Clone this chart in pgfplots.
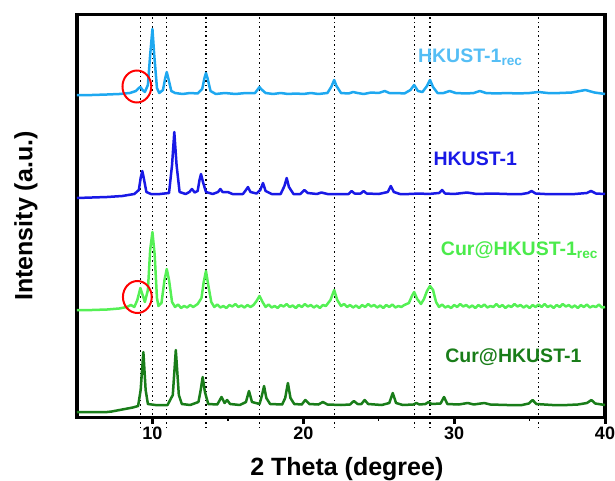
\documentclass[border=0pt]{standalone}
\usepackage{fontspec}
\setmainfont{Liberation Sans}
\usepackage{pgfplots}
\pgfplotsset{compat=1.18}
\definecolor{lblue}{RGB}{30,168,240}
\definecolor{lbluetxt}{RGB}{85,190,245}
\definecolor{dblue}{RGB}{25,25,230}
\definecolor{lgreen}{RGB}{85,240,85}
\definecolor{lgreentxt}{RGB}{75,235,75}
\definecolor{dgreen}{RGB}{25,125,25}
\begin{document}
\begin{tikzpicture}
\useasboundingbox (-77pt,-62.5pt) rectangle (538pt,417.5pt);
\begin{axis}[
  scale only axis, width=528pt, height=403pt,
  xmin=5, xmax=40, ymin=2.5, ymax=405.5,
  clip=false,
  axis line style={line width=3.5pt},
  xtick={10,20,30,40},
  minor xtick={15,25,35},
  ytick=\empty,
  xtick pos=bottom,
  tick align=outside,
  major tick length=6pt, minor tick length=3pt,
  every major tick/.style={line width=3pt,black},
  every minor tick/.style={line width=1.5pt,black},
  ticklabel style={font=\fontsize{18}{20}\selectfont\bfseries},
  /pgf/number format/assume math mode=true,
  xlabel={\bfseries 2 Theta (degree)},
  ylabel={\bfseries Intensity (a.u.)},
  label style={font=\fontsize{25}{28}\selectfont},
  xlabel style={at={(axis description cs:0.511,-0.1427)},anchor=base},
  ylabel style={at={(axis description cs:-0.0966,0.5)},anchor=center},
]
% dotted reference lines
\foreach \xx in {9.2,10.0,10.95,13.55,17.1,22.05,27.35,28.4,35.6}{
  \edef\tmp{\noexpand\addplot[black, line width=1.3pt, dash pattern=on 1.3pt off 3.2pt] coordinates {(\xx,-8) (\xx,410)};}
  \tmp
}
% HKUST-1rec
\addplot[lblue, line width=2.5pt, line join=round] coordinates {
(5,325) (6,325) (7,325.5) (7.8,326) (8.5,327) (8.9,329) (9.1,332) (9.2,333) (9.35,330) (9.5,328) (9.7,335) (9.85,365) (10.0,391) (10.12,365) (10.3,332) (10.45,327) (10.7,330) (10.85,342) (10.95,348) (11.05,342) (11.25,329) (11.5,327) (12,326) (12.5,327) (13,326.5) (13.3,331) (13.45,342) (13.55,347) (13.65,342) (13.85,329) (14.2,326) (14.8,327) (15.5,326) (16.2,327) (16.8,327) (17.0,331) (17.1,333) (17.2,331) (17.5,327) (18,326) (18.5,327) (19,326) (19.5,326.5) (20,326) (20.5,327) (21,326) (21.6,327) (21.85,333) (22.05,340) (22.2,334) (22.5,327) (23,326.5) (23.3,328) (23.6,327) (24,326) (24.5,327.5) (25,327) (25.4,329) (25.7,327) (26.2,327) (26.7,326.5) (27.1,330) (27.35,335) (27.6,329) (27.9,328) (28.2,334) (28.4,340) (28.6,333) (28.9,327) (29.3,327) (29.7,329) (30.1,327) (30.8,326.5) (31.3,327) (31.7,329) (32.1,327) (32.8,326.5) (33.5,327) (34.2,326.5) (35,327) (35.6,328) (36.2,327) (37,327) (37.8,327.5) (38.7,330) (39.3,327.5) (40,326)
};
% HKUST-1
\addplot[dblue, line width=2.5pt, line join=round] coordinates {
(5,222) (6,222.5) (7,223) (8,224) (8.8,226) (9.1,230) (9.22,242) (9.33,249) (9.45,240) (9.6,228) (9.9,226) (10.5,226) (11.1,227) (11.3,255) (11.45,288) (11.6,255) (11.8,228) (12.2,226) (12.45,228) (12.62,231) (12.8,227.5) (13.0,229) (13.12,240) (13.22,246) (13.35,238) (13.55,228) (14,226) (14.35,228) (14.5,231) (14.65,228) (15.0,228) (15.3,226) (16.0,226) (16.2,230) (16.33,233) (16.5,228) (16.9,226.5) (17.15,230) (17.33,237) (17.5,229) (17.9,226) (18.5,226) (18.75,234) (18.9,242) (19.05,233) (19.35,226) (19.8,226) (20.07,230) (20.3,227) (20.9,226) (21.2,227.5) (21.6,226) (22.3,226) (23.0,226) (23.2,229) (23.4,226.5) (23.8,226.5) (24.0,229) (24.2,226.5) (25.0,226) (25.6,228) (25.8,234) (26.0,228) (26.4,226) (27,226) (27.7,226.5) (28.3,226) (29.0,227) (29.2,230) (29.4,226.5) (30,226) (30.85,227.5) (31.5,226) (32.5,226.5) (33.5,226) (34.5,226) (34.9,227) (35.13,229) (35.4,226.5) (36,226) (37,226) (38,226) (38.8,227) (39.07,229) (39.4,226.5) (40,226)
};
% Cur@HKUST-1rec
\addplot[lgreen, line width=2.5pt, line join=round] coordinates {
(5,110) (6,110) (7,110.5) (7.8,111.5) (8.3,113) (8.58,115) (8.8,113) (9.0,120) (9.2,132) (9.35,125) (9.5,118) (9.7,130) (9.85,170) (10.0,188) (10.15,165) (10.3,122) (10.4,114) (10.6,117) (10.8,140) (10.95,151) (11.1,140) (11.3,118) (11.5,113) (11.7,115.5) (11.9,112) (12.1,114) (12.3,112.5) (12.5,115) (12.7,113) (13.0,116) (13.25,122) (13.4,138) (13.55,149) (13.7,135) (13.9,118) (14.1,113) (14.3,115.5) (14.5,112.5) (14.7,114) (14.9,112) (15.1,115) (15.3,113.5) (15.5,116) (15.7,113) (15.9,114.5) (16.1,112.5) (16.3,115) (16.5,113) (16.7,115) (16.9,119) (17.1,124) (17.3,118) (17.5,113) (17.7,115.5) (17.9,112.5) (18.1,114) (18.3,112) (18.5,115) (18.7,113.5) (18.9,116) (19.1,113) (19.3,114.5) (19.5,112) (19.7,115) (19.9,113) (20.1,116) (20.3,113.5) (20.5,115) (20.7,112.5) (20.9,114.5) (21.1,112) (21.3,115) (21.5,114) (21.8,120) (22.05,130) (22.25,120) (22.5,114) (22.7,116) (22.9,113) (23.1,115) (23.3,112.5) (23.5,114.5) (23.7,112) (23.9,115) (24.1,113) (24.3,116) (24.5,113.5) (24.7,115) (24.9,112.5) (25.1,114.5) (25.3,112) (25.5,115) (25.7,113) (25.9,115.5) (26.1,112.5) (26.3,114) (26.5,113) (26.7,115) (27.0,117) (27.2,124) (27.35,128) (27.55,121) (27.8,116) (28.0,121) (28.2,129) (28.4,134) (28.6,130) (28.8,118) (29.0,113) (29.2,115.5) (29.4,112.5) (29.6,114) (29.8,112) (30.0,115) (30.2,113) (30.4,116) (30.6,113.5) (30.8,115) (31.0,112.5) (31.2,114.5) (31.4,112) (31.6,115) (31.8,113) (32.0,115.5) (32.2,112.5) (32.4,114) (32.6,113) (32.8,116) (33.0,113) (33.2,115) (33.4,112) (33.6,114.5) (33.8,113) (34.0,116) (34.2,113.5) (34.4,115) (34.6,112.5) (34.8,114.5) (35.0,112) (35.2,115) (35.4,113) (35.6,115.5) (35.8,113) (36.0,116) (36.2,113) (36.4,114.5) (36.6,112) (36.8,115) (37.0,113) (37.2,116) (37.4,113.5) (37.6,115) (37.8,112.5) (38.0,114.5) (38.2,112) (38.4,115) (38.6,113) (38.8,115.5) (39.0,112.5) (39.2,114) (39.4,113) (39.6,115.5) (39.8,112.5) (40,113)
};
% Cur@HKUST-1
\addplot[dgreen, line width=2.5pt, line join=round] coordinates {
(5,8) (6,8) (7,8) (7.3,8.5) (8,10.5) (8.7,12.5) (9.05,14) (9.22,30) (9.4,68) (9.55,30) (9.7,16) (10.2,15) (11.0,15) (11.35,25) (11.55,70) (11.75,25) (11.95,16) (12.5,15) (13.05,18) (13.2,30) (13.33,43) (13.48,28) (13.7,16) (14.3,15.5) (14.58,23) (14.78,17) (14.95,20) (15.15,16) (15.8,15) (16.2,18) (16.4,29) (16.6,18) (17.1,16) (17.25,24) (17.4,34) (17.55,22) (17.8,16) (18.6,15.5) (18.8,22) (18.98,37) (19.15,22) (19.4,16) (19.9,15.5) (20.13,20) (20.4,16) (21.0,15.5) (21.3,18) (21.6,15.5) (22.5,15) (23.1,15.5) (23.35,19) (23.6,16) (23.85,16) (24.07,20) (24.3,16) (25.2,15) (25.7,17) (25.93,27) (26.15,17) (26.6,15) (27.3,15.5) (27.5,17) (27.7,15.5) (28.1,16) (28.3,18) (28.5,16) (29.1,16.5) (29.33,23) (29.55,16) (30.3,15.5) (30.9,17) (31.3,15.5) (32.0,17) (32.4,15.5) (33.5,15) (34.5,15) (34.95,16.5) (35.2,20) (35.45,16) (36.5,15) (37.5,15) (38.2,15.5) (38.8,17) (39.1,20) (39.35,16.5) (40,15)
};
% red circles
\addplot[only marks, red, mark=o, mark size=16pt, mark options={line width=2pt, xscale=0.9}] coordinates {(8.97,333.5) (9.0,123)};
% labels
\node[lbluetxt, font=\fontsize{19.5}{22}\selectfont\bfseries] at (axis cs:31.07,363) {HKUST-1\textsubscript{rec}};
\node[dblue, font=\fontsize{19.5}{22}\selectfont\bfseries] at (axis cs:31.4,261) {HKUST-1};
\node[lgreentxt, font=\fontsize{19.5}{22}\selectfont\bfseries] at (axis cs:34.33,170) {Cur@HKUST-1\textsubscript{rec}};
\node[dgreen, font=\fontsize{19.5}{22}\selectfont\bfseries] at (axis cs:33.93,63) {Cur@HKUST-1};
\end{axis}
\end{tikzpicture}
\end{document}
